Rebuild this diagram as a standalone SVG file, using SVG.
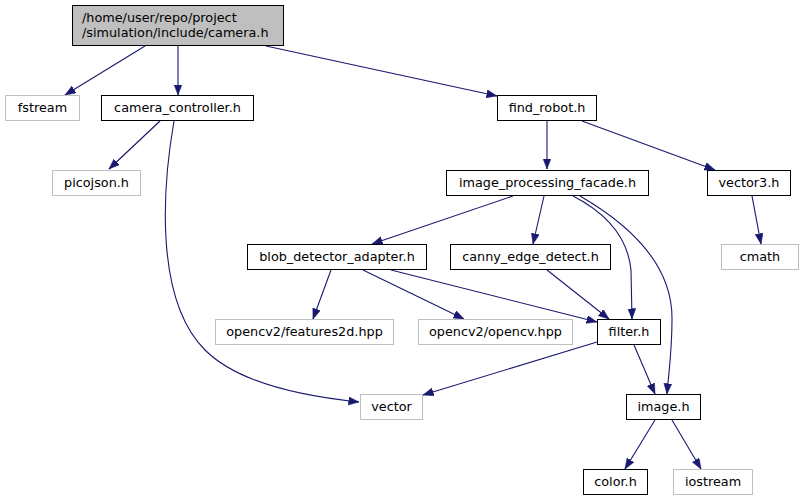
<svg xmlns="http://www.w3.org/2000/svg" width="804" height="500" viewBox="0 0 804 500">
<style>
.n rect{fill:#ffffff;stroke:#000000;stroke-width:1}
.n.ext rect{stroke:#bfbfbf}
.n.root rect{fill:#bfbfbf}
text{font-family:"DejaVu Sans",sans-serif;font-size:12.8px;fill:#000000}
.c{text-anchor:middle}
#edges path{fill:none;stroke:#191970;stroke-width:1.1;marker-end:url(#ah)}
</style>
<defs>
<marker id="ah" markerUnits="userSpaceOnUse" markerWidth="11" markerHeight="9" refX="10.5" refY="4" orient="auto">
<path d="M0,0 L10.5,4 L0,8 z" fill="#191970" stroke="#191970" stroke-width="0.5"/>
</marker>
</defs>
<rect width="804" height="500" fill="#ffffff"/>
<g id="edges">
<path d="M145,46 L65,95"/>
<path d="M178,46 L178,95"/>
<path d="M266,46 L497,96"/>
<path d="M160,121 L109,169"/>
<path d="M174,121 C162,190 155,300 205,350 C 240,385 310,397 359,402"/>
<path d="M547,121 L547,169"/>
<path d="M582,121 L715,170"/>
<path d="M752,196 L761,244"/>
<path d="M513,196 L372,244"/>
<path d="M544,196 L533,244"/>
<path d="M573,196 C610,215 628,240 631,270 L632,319"/>
<path d="M580,196 C630,225 673,265 672,320 C672,350 669,370 667,394"/>
<path d="M331,270 L313,319"/>
<path d="M363,270 L464,319"/>
<path d="M391,270 L597,322"/>
<path d="M547,270 L609,319"/>
<path d="M597,342 L423,395"/>
<path d="M634,345 L655,394"/>
<path d="M655,420 L625,469"/>
<path d="M672,420 L701,469"/>
</g>
<g id="camera_h" class="n root"><rect x="72.5" y="5.5" width="211" height="40"/><text x="82" y="22">/home/user/repo/project</text><text x="82" y="37">/simulation/include/camera.h</text></g>
<g id="fstream" class="n ext"><rect x="5.5" y="95.5" width="74" height="25"/><text class="c" x="42.5" y="112">fstream</text></g>
<g id="camera_controller_h" class="n"><rect x="101.5" y="95.5" width="152" height="25"/><text class="c" x="177.5" y="112">camera_controller.h</text></g>
<g id="find_robot_h" class="n"><rect x="497.5" y="95.5" width="99" height="25"/><text class="c" x="547" y="112">find_robot.h</text></g>
<g id="picojson_h" class="n ext"><rect x="52.5" y="170.5" width="88" height="25"/><text class="c" x="96.5" y="187">picojson.h</text></g>
<g id="image_processing_facade_h" class="n"><rect x="446.5" y="170.5" width="202" height="25"/><text class="c" x="547.5" y="187">image_processing_facade.h</text></g>
<g id="vector3_h" class="n"><rect x="707.5" y="170.5" width="83" height="25"/><text class="c" x="749" y="187">vector3.h</text></g>
<g id="blob_detector_adapter_h" class="n"><rect x="247.5" y="244.5" width="179" height="25"/><text class="c" x="337" y="261">blob_detector_adapter.h</text></g>
<g id="canny_edge_detect_h" class="n"><rect x="450.5" y="244.5" width="160" height="25"/><text class="c" x="530.5" y="261">canny_edge_detect.h</text></g>
<g id="cmath" class="n ext"><rect x="721.5" y="244.5" width="77" height="25"/><text class="c" x="760" y="261">cmath</text></g>
<g id="opencv2_features2d_hpp" class="n ext"><rect x="215.5" y="319.5" width="178" height="25"/><text class="c" x="304.5" y="336">opencv2/features2d.hpp</text></g>
<g id="opencv2_opencv_hpp" class="n ext"><rect x="418.5" y="319.5" width="154" height="25"/><text class="c" x="495.5" y="336">opencv2/opencv.hpp</text></g>
<g id="filter_h" class="n"><rect x="597.5" y="319.5" width="63" height="25"/><text class="c" x="629" y="336">filter.h</text></g>
<g id="vector" class="n ext"><rect x="360.5" y="394.5" width="62" height="25"/><text class="c" x="391.5" y="411">vector</text></g>
<g id="image_h" class="n"><rect x="626.5" y="394.5" width="74" height="25"/><text class="c" x="663.5" y="411">image.h</text></g>
<g id="color_h" class="n"><rect x="583.5" y="469.5" width="64" height="25"/><text class="c" x="615.5" y="486">color.h</text></g>
<g id="iostream" class="n ext"><rect x="673.5" y="469.5" width="79" height="25"/><text class="c" x="713" y="486">iostream</text></g>
</svg>
